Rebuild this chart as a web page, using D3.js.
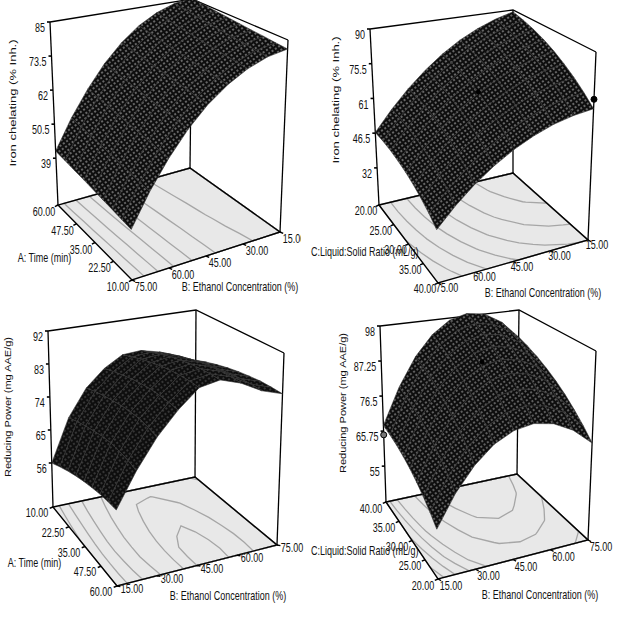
<!DOCTYPE html>
<html>
<head>
<meta charset="utf-8">
<script src="https://cdn.jsdelivr.net/npm/d3@7"></script>
<style>
  body { margin: 0; background: #fff; }
  svg { display: block; }
  text { font-family: "Liberation Sans", Arial, sans-serif; fill: #111; }
</style>
</head>
<body>
<svg id="chart" width="623" height="640"></svg>
<script>
// ---- data ----
const timeTicks = [10, 22.5, 35, 47.5, 60];
const ratioTicks = [20, 25, 30, 35, 40];
const ethanolTicks = [15, 30, 45, 60, 75];
const ironTimeTicks = [39, 50.5, 62, 73.5, 85];
const ironRatioTicks = [32, 46.5, 61, 75.5, 90];
const powerTimeTicks = [56, 65, 74, 83, 92];
const powerRatioTicks = [55, 65.75, 76.5, 87.25, 98];

// grid positions where the surfaces were read
const timeGrid = [10, 16.25, 22.5, 28.75, 35, 41.25, 47.5, 53.75, 60];
const ratioGrid = [20, 22.5, 25, 27.5, 30, 32.5, 35, 37.5, 40];
const ethanolGrid = [15, 22.5, 30, 37.5, 45, 52.5, 60, 67.5, 75];

// one row per time / ratio value, columns follow ethanolGrid
const ironTime = [
  [82.1, 81.1, 78.8, 75.3, 70.6, 64.5, 57.1, 48.5, 38.6],
  [82.4, 81.4, 79.1, 75.6, 70.9, 64.8, 57.4, 48.8, 38.9],
  [82.8, 81.8, 79.5, 76.0, 71.3, 65.2, 57.8, 49.2, 39.3],
  [83.1, 82.1, 79.8, 76.3, 71.6, 65.5, 58.1, 49.5, 39.6],
  [83.5, 82.5, 80.2, 76.7, 72.0, 65.9, 58.5, 49.9, 40.0],
  [83.9, 82.9, 80.6, 77.1, 72.4, 66.3, 58.9, 50.3, 40.4],
  [84.3, 83.4, 81.1, 77.6, 72.8, 66.7, 59.2, 50.6, 40.7],
  [84.8, 83.9, 81.6, 78.1, 73.3, 67.1, 59.6, 51.0, 41.1],
  [85.3, 84.4, 82.1, 78.6, 73.7, 67.5, 59.9, 51.3, 41.4]
];
const ironRatio = [
  [89.2, 86.9, 83.8, 79.9, 75.0, 69.2, 62.6, 55.1, 46.8],
  [87.8, 85.8, 82.8, 79.0, 74.3, 68.7, 62.3, 55.0, 46.8],
  [86.1, 84.2, 81.4, 77.8, 73.2, 67.8, 61.6, 54.4, 46.4],
  [84.0, 82.3, 79.7, 76.2, 71.8, 66.6, 60.5, 53.5, 45.6],
  [81.5, 79.9, 77.5, 74.2, 70.0, 64.9, 59.0, 52.2, 44.5],
  [78.6, 77.3, 75.0, 71.8, 67.8, 62.9, 57.2, 50.5, 43.0],
  [75.4, 74.2, 72.1, 69.1, 65.3, 60.5, 54.9, 48.5, 41.1],
  [71.8, 70.8, 68.8, 66.0, 62.3, 57.8, 52.3, 46.0, 38.9],
  [67.8, 66.9, 65.2, 62.5, 59.0, 54.6, 49.4, 43.2, 36.2]
];
const powerTime = [
  [56.0, 67.5, 74.8, 79.4, 82.4, 82.8, 81.6, 79.0, 77.6],
  [57.4, 68.6, 75.8, 80.4, 83.6, 84.1, 82.8, 80.2, 78.8],
  [58.6, 69.5, 76.6, 81.3, 84.7, 85.2, 83.9, 81.3, 79.8],
  [59.6, 70.2, 77.2, 82.0, 85.5, 86.2, 84.8, 82.1, 80.6],
  [60.4, 70.8, 77.7, 82.5, 86.2, 86.9, 85.5, 82.8, 81.2],
  [61.0, 71.1, 77.9, 82.8, 86.7, 87.5, 86.0, 83.2, 81.6],
  [61.5, 70.9, 78.0, 82.9, 87.0, 87.8, 86.3, 83.5, 81.9],
  [61.7, 70.6, 77.6, 82.8, 87.1, 88.0, 86.4, 83.6, 81.9],
  [61.8, 70.0, 77.0, 82.5, 87.0, 88.0, 86.3, 83.5, 81.8]
];
const powerRatio = [
  [57.3, 65.7, 72.2, 76.9, 79.6, 80.5, 79.4, 76.5, 71.7],
  [59.5, 68.2, 75.0, 79.8, 82.7, 83.6, 82.6, 79.7, 74.8],
  [61.4, 70.4, 77.5, 82.5, 85.6, 86.6, 85.6, 82.6, 77.6],
  [63.1, 72.4, 79.7, 85.0, 88.2, 89.3, 88.3, 85.3, 80.2],
  [64.5, 74.2, 81.7, 87.2, 90.5, 91.7, 90.7, 87.7, 82.5],
  [65.6, 75.6, 83.5, 89.1, 92.6, 93.8, 92.9, 89.8, 84.5],
  [66.5, 76.8, 85.0, 90.8, 94.4, 95.8, 94.9, 91.7, 86.3],
  [67.1, 77.8, 86.2, 92.2, 96.0, 97.4, 96.5, 93.3, 87.8],
  [67.5, 78.5, 87.2, 93.4, 97.3, 98.8, 98.0, 94.7, 89.1]
];

// contour levels on the floor
const ironTimeLevels = [45, 52, 59, 66, 73, 80];
const ironRatioLevels = [45, 52.5, 60, 67.5, 75, 82.5];
const powerTimeLevels = [60, 66, 72, 78, 84, 87];
const powerRatioLevels = [60, 65, 70, 75, 85, 92];

// design points shown on the plots: [factor, ethanol, response]
const ironRatioPoints = [[40, 15, 71.5], [30, 45, 70.5]];
const powerRatioPoints = [[40, 15, 64.6], [30, 45, 91.8]];

// ---- layout of the four boxes (screen corners: L left, F front, R right, K back) ----
const panels = [
  {
    rows: ironTime, grid: timeGrid, ticks: timeTicks, zTicks: ironTimeTicks, zDomain: [23.2, 85],
    levels: ironTimeLevels, points: [], speck: "#969696",
    xTitle: "A: Time (min)", zTitle: "Iron chelating (% Inh.)", zSize: 13,
    near: [0, 1],
    floor: { L: [58, 205], F: [132, 280], R: [280, 232], K: [190, 168] },
    top:   { L: [50, 22],  F: [129, 77],  R: [288, 40],  K: [192, -1] },
    xLab: [-14, 7], bLab: [14, 6.5],
    xTitlePos: [44.5, 258, "middle"], bTitlePos: [240, 287], zTitlePos: [13, 103],
    clip: [0, 0, 301, 310]
  },
  {
    rows: ironRatio, grid: ratioGrid, ticks: ratioTicks, zTicks: ironRatioTicks, zDomain: [16.5, 90],
    levels: ironRatioLevels, points: ironRatioPoints, speck: "#969696",
    xTitle: "C:Liquid:Solid Ratio (mL/g)", zTitle: "Iron chelating (% Inh.)", zSize: 13,
    near: [1, 1],
    floor: { L: [379, 205], F: [438, 283], R: [588, 240], K: [513, 173] },
    top:   { L: [370, 29],  F: [433, 84],  R: [596, 52],  K: [513, 10] },
    xLab: [-13, 6], bLab: [9, 5],
    xTitlePos: [311, 252, "start"], bTitlePos: [543, 293], zTitlePos: [336, 100],
    clip: null
  },
  {
    rows: powerTime, grid: timeGrid, ticks: timeTicks, zTicks: powerTimeTicks, zDomain: [44, 92],
    levels: powerTimeLevels, points: [], speck: "#4a4a4a",
    xTitle: "A: Time (min)", zTitle: "Reducing Power (mg AAE/g)", zSize: 11,
    near: [1, 0],
    floor: { L: [53, 507], F: [117, 586], R: [277, 545], K: [195, 477] },
    top:   { L: [48, 331], F: [115, 381], R: [284, 353], K: [196, 310] },
    xLab: [-16, 6], bLab: [15, 3],
    xTitlePos: [34.5, 563, "middle"], bTitlePos: [228, 596], zTitlePos: [8, 407],
    clip: null
  },
  {
    rows: powerRatio, grid: ratioGrid, ticks: ratioTicks, zTicks: powerRatioTicks, zDomain: [44, 98],
    levels: powerRatioLevels, points: powerRatioPoints, speck: "#8a8a8a",
    xTitle: "C:Liquid:Solid Ratio (mL/g)", zTitle: "Reducing Power (mg AAE/g)", zSize: 11,
    near: [0, 0],
    floor: { L: [386, 502], F: [438, 579], R: [588, 540], K: [517, 474] },
    top:   { L: [380, 326], F: [433, 377], R: [596, 351], K: [519, 310] },
    xLab: [-15, 6.5], bLab: [13, 7],
    xTitlePos: [311, 551, "start"], bTitlePos: [540, 595], zTitlePos: [343, 403],
    clip: null
  }
];

const svg = d3.select("#chart");
const defs = svg.append("defs");

function label(g, x, y, str, anchor, size) {
  return g.append("text")
    .attr("transform", `translate(${x},${y}) scale(0.75,1)`)
    .attr("text-anchor", anchor || "middle")
    .attr("dy", "0.35em")
    .attr("font-size", size || 12)
    .text(str);
}

const fmt2 = d3.format(".2f");

panels.forEach((p, pi) => {
  const g = svg.append("g");
  if (p.clip) {
    defs.append("clipPath").attr("id", "clip" + pi).append("rect")
      .attr("x", p.clip[0]).attr("y", p.clip[1]).attr("width", p.clip[2]).attr("height", p.clip[3]);
    g.attr("clip-path", `url(#clip${pi})`);
  }

  // dense mesh look: black lines with light specks between them
  const pat = defs.append("pattern").attr("id", "mesh" + pi)
    .attr("patternUnits", "userSpaceOnUse").attr("width", 4).attr("height", 4)
    .attr("patternTransform", "rotate(-35)");
  pat.append("rect").attr("width", 4).attr("height", 4).attr("fill", "#0e0e0e");
  pat.append("rect").attr("x", 1.2).attr("y", 1.2).attr("width", 1.6).attr("height", 1.6).attr("fill", p.speck);

  // corner roles in (u, v) space
  const [uF, vF] = p.near;
  const roleUV = { F: [uF, vF], L: [1 - uF, vF], R: [uF, 1 - vF], K: [1 - uF, 1 - vF] };
  const cornerTable = (src) => {
    const t = [[null, null], [null, null]];
    Object.keys(roleUV).forEach(r => { t[roleUV[r][0]][roleUV[r][1]] = src[r]; });
    return t;
  };
  const fc = cornerTable(p.floor), tc = cornerTable(p.top);
  const bilerp = (c, u, v, k) =>
    c[0][0][k] * (1 - u) * (1 - v) + c[1][0][k] * u * (1 - v) +
    c[0][1][k] * (1 - u) * v + c[1][1][k] * u * v;
  const proj = (u, v, w) => {
    const fx = bilerp(fc, u, v, 0), fy = bilerp(fc, u, v, 1);
    const tx = bilerp(tc, u, v, 0), ty = bilerp(tc, u, v, 1);
    return [fx + (tx - fx) * w, fy + (ty - fy) * w];
  };

  const xs = d3.scaleLinear().domain(d3.extent(p.grid)).range([0, 1]);
  const bs = d3.scaleLinear().domain(d3.extent(ethanolGrid)).range([0, 1]);
  const zs = d3.scaleLinear().domain(p.zDomain).range([0, 1]);
  const line = d3.line();
  const at = (r) => proj(roleUV[r][0], roleUV[r][1], 0);
  const atTop = (r) => proj(roleUV[r][0], roleUV[r][1], 1);

  // floor
  const floorPts = ["L", "F", "R", "K"].map(at);
  g.append("path").attr("d", line(floorPts) + "Z").attr("fill", "#e8e8e8");

  // contours of the response projected onto the floor
  const n = p.grid.length, m = ethanolGrid.length;
  const values = [];
  for (let j = 0; j < m; j++) for (let i = 0; i < n; i++) values.push(p.rows[i][j]);
  const clamp01 = v => Math.max(0, Math.min(1, v));
  const contours = d3.contours().size([n, m]).thresholds(p.levels)(values);
  g.append("g").selectAll("path").data(contours).join("path")
    .attr("fill", "none").attr("stroke", "#a6a6a6").attr("stroke-width", 1.3)
    .attr("d", c => c.coordinates.map(poly => poly.map(ring =>
      line(ring.map(([gx, gy]) => proj(
        clamp01((gx - 0.5) / (n - 1)),
        clamp01((gy - 0.5) / (m - 1)), 0))) + "Z").join("")).join(""));

  // box: floor edges, back verticals, back top edges
  g.append("path").attr("d", line(floorPts) + "Z")
    .attr("fill", "none").attr("stroke", "#000").attr("stroke-width", 1.4);
  const box = g.append("g").attr("stroke", "#000").attr("stroke-width", 1.3).attr("fill", "none");
  ["L", "K", "R"].forEach(r => box.append("path").attr("d", line([at(r), atTop(r)])));
  box.append("path").attr("d", line([atTop("L"), atTop("K"), atTop("R")]));

  // surface cells, back to front
  const cells = [];
  for (let i = 0; i < n - 1; i++) {
    for (let j = 0; j < m - 1; j++) {
      const pt = (a, b) => proj(xs(p.grid[a]), bs(ethanolGrid[b]), zs(p.rows[a][b]));
      const uc = xs((p.grid[i] + p.grid[i + 1]) / 2), vc = bs((ethanolGrid[j] + ethanolGrid[j + 1]) / 2);
      cells.push({
        pts: [pt(i, j), pt(i + 1, j), pt(i + 1, j + 1), pt(i, j + 1)],
        depth: Math.abs(uc - uF) + Math.abs(vc - vF)
      });
    }
  }
  cells.sort((a, b) => b.depth - a.depth);
  g.append("g").selectAll("path").data(cells).join("path")
    .attr("d", c => line(c.pts) + "Z")
    .attr("fill", `url(#mesh${pi})`)
    .attr("stroke", "#333").attr("stroke-width", 0.6).attr("stroke-linejoin", "round");

  // response axis on the left vertical
  p.zTicks.forEach(t => {
    const [x, y] = proj(roleUV.L[0], roleUV.L[1], zs(t));
    g.append("path").attr("d", line([[x, y], [x - 3, y]])).attr("stroke", "#000").attr("stroke-width", 1.6);
    label(g, x - 5, y + 6, String(t), "end");
  });

  // factor axis along L-F, ethanol axis along F-R
  p.ticks.forEach(t => {
    const [x, y] = proj(xs(t), vF, 0);
    const d = Math.hypot(p.xLab[0], p.xLab[1]);
    g.append("path").attr("d", line([[x, y], [x + p.xLab[0] / d * 3.5, y + p.xLab[1] / d * 3.5]]))
      .attr("stroke", "#000").attr("stroke-width", 1.4);
    label(g, x + p.xLab[0], y + p.xLab[1], fmt2(t));
  });
  ethanolTicks.forEach(t => {
    const [x, y] = proj(uF, bs(t), 0);
    const d = Math.hypot(p.bLab[0], p.bLab[1]);
    g.append("path").attr("d", line([[x, y], [x + p.bLab[0] / d * 3.5, y + p.bLab[1] / d * 3.5]]))
      .attr("stroke", "#000").attr("stroke-width", 1.4);
    label(g, x + p.bLab[0], y + p.bLab[1], fmt2(t));
  });

  // design points
  p.points.forEach(([f, b, z], k) => {
    const [x, y] = proj(xs(f), bs(b), zs(z));
    g.append("circle").attr("cx", x).attr("cy", y).attr("r", k === 0 ? 3 : 2)
      .attr("fill", k === 0 && pi === 3 ? "#777" : "#000").attr("stroke", "#000").attr("stroke-width", 1);
  });

  // titles
  label(g, p.xTitlePos[0], p.xTitlePos[1], p.xTitle, p.xTitlePos[2]);
  label(g, p.bTitlePos[0], p.bTitlePos[1], "B: Ethanol Concentration (%)");
  g.append("text")
    .attr("transform", `translate(${p.zTitlePos[0]},${p.zTitlePos[1]}) scale(0.75,1) rotate(-90)`)
    .attr("text-anchor", "middle").attr("dy", "0.35em")
    .attr("font-size", p.zSize).text(p.zTitle);
});
</script>
</body>
</html>
